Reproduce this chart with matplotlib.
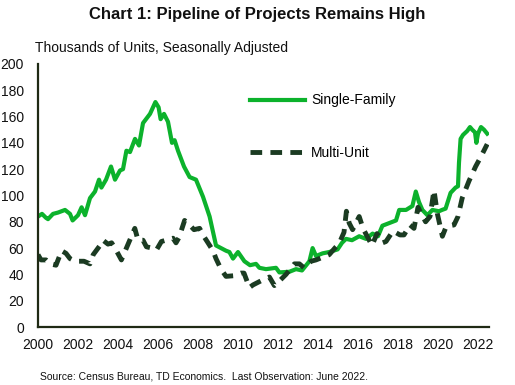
import matplotlib
matplotlib.use("Agg")
import matplotlib.pyplot as plt

plt.rcParams['font.family'] = ['Liberation Sans', 'DejaVu Sans']

# single-family units under construction
sf_year = [2000.0, 2000.2, 2000.4, 2000.5, 2000.75, 2001.0, 2001.35, 2001.6, 2001.73,
           2002.0, 2002.18, 2002.35, 2002.6, 2002.85, 2003.05, 2003.17, 2003.4, 2003.65,
           2003.85, 2004.1, 2004.25, 2004.42, 2004.6, 2004.85, 2005.05, 2005.25, 2005.6,
           2005.87, 2006.03, 2006.13, 2006.3, 2006.5, 2006.7, 2006.83, 2007.0, 2007.1,
           2007.3, 2007.58, 2007.9, 2008.25, 2008.58, 2008.9, 2009.15, 2009.4, 2009.57,
           2009.75, 2010.0, 2010.32, 2010.6, 2010.9, 2011.07, 2011.4, 2011.9, 2012.07,
           2012.57, 2012.9, 2013.2, 2013.57, 2013.73, 2013.9, 2014.23, 2014.56, 2014.98,
           2015.2, 2015.4, 2015.7, 2016.06, 2016.4, 2016.73, 2017.0, 2017.22, 2017.56,
           2017.9, 2018.06, 2018.4, 2018.72, 2018.89, 2019.05, 2019.22, 2019.47, 2019.72,
           2020.05, 2020.2, 2020.38, 2020.63, 2020.88, 2021.0, 2021.05, 2021.13, 2021.25,
           2021.46, 2021.6, 2021.71, 2021.85, 2021.92, 2022.0, 2022.15, 2022.3, 2022.46]
sf_val = [84, 86, 83, 82, 86, 87, 89, 86, 81,
          85, 91, 85, 98, 103, 112, 106, 112, 122,
          112, 119, 120, 134, 133, 143, 138, 155, 162,
          171, 167, 158, 162, 156, 140, 142, 134, 130,
          122, 114, 112, 99, 84, 62, 60, 58, 57,
          52, 57, 50, 47, 48, 45, 44, 45, 41.5,
          42, 44, 43, 50, 60, 54, 56, 57, 59,
          64, 67, 66, 69, 67, 71, 69, 77, 79,
          81, 89, 89, 92, 103, 95, 89, 85, 89,
          88, 89, 90, 102, 106, 107, 125, 143, 146,
          149, 152, 150, 148, 140, 147, 152, 150, 147]

# multi-unit
mu_year = [2000.0, 2000.15, 2000.4, 2000.6, 2000.9, 2001.18, 2001.4, 2001.6, 2001.85,
           2002.0, 2002.3, 2002.6, 2002.76, 2003.1, 2003.25, 2003.5, 2003.68, 2003.85,
           2004.17, 2004.42, 2004.84, 2005.0, 2005.25, 2005.42, 2005.7, 2005.92, 2006.17,
           2006.4, 2006.75, 2006.9, 2007.05, 2007.33, 2007.58, 2007.8, 2008.08, 2008.33,
           2008.5, 2008.75, 2008.9, 2009.15, 2009.4, 2009.8, 2010.15, 2010.3, 2010.57,
           2010.75, 2011.07, 2011.4, 2011.57, 2011.82, 2012.07, 2012.4, 2012.82, 2013.07,
           2013.3, 2013.65, 2013.9, 2014.23, 2014.56, 2014.9, 2015.06, 2015.3, 2015.42,
           2015.56, 2015.73, 2016.06, 2016.25, 2016.56, 2016.7, 2016.95, 2017.1, 2017.23,
           2017.4, 2017.75, 2018.1, 2018.3, 2018.6, 2018.8, 2019.0, 2019.2, 2019.38,
           2019.6, 2019.8, 2019.97, 2020.22, 2020.4, 2020.6, 2020.8, 2021.0, 2021.21,
           2021.55, 2021.88, 2022.13, 2022.46]
mu_val = [55, 51, 51, 48, 47, 58, 56, 52, 50,
          50, 50, 48, 55, 62, 66, 63, 64, 60,
          51, 60, 75, 66, 66, 61, 60, 58.5, 65,
          66, 67.5, 64, 68, 81, 77.6, 74, 75, 68,
          64, 58, 52, 44, 38.5, 39, 41, 41, 30,
          32, 34.5, 37, 38, 31.5, 35, 40, 48, 48,
          45, 50, 51, 53, 55, 61, 63.6, 72, 88,
          79, 74, 84, 75, 66, 62, 71, 68, 64,
          65, 73, 70, 70, 77.6, 75, 91, 85, 80,
          84, 104, 86, 69, 76, 77, 77.6, 84, 98,
          111, 122, 129, 139]

xticks = list(range(2000, 2023, 2))
yticks = list(range(0, 201, 20))

fig = plt.figure(figsize=(5.15, 3.85), dpi=100)
ax = fig.add_axes([0.0738, 0.1506, 0.8757, 0.6834])

ax.plot(sf_year, sf_val, color='#0cb22c', lw=3.0, label='Single-Family',
        solid_joinstyle='round')
ax.plot(mu_year, mu_val, color='#1b3b22', lw=3.5, linestyle=(0, (2.4, 1.7)),
        label='Multi-Unit')

ax.set_xlim(2000, 2022.55)
ax.set_ylim(0, 200)
ax.set_xticks(xticks)
ax.set_xticklabels([str(t) for t in xticks])
ax.set_yticks(yticks)
ax.tick_params(length=0, labelsize=10, colors='#111111')
ax.tick_params(axis='y', pad=10)
ax.tick_params(axis='x', pad=8)

for s in ['top', 'right']:
    ax.spines[s].set_visible(False)
for s in ['left', 'bottom']:
    ax.spines[s].set_color('#1f2a14')
    ax.spines[s].set_linewidth(1.6)

ax.legend(loc='upper left', bbox_to_anchor=(0.471, 0.888), frameon=False,
          fontsize=10, handlelength=3.9, handletextpad=0.45, labelspacing=2.75,
          borderpad=0, borderaxespad=0)

fig.text(0.5, 0.962, 'Chart 1: Pipeline of Projects Remains High', ha='center',
         va='center', fontsize=12, fontweight='bold', color='#111111')
fig.text(0.068, 0.875, 'Thousands of Units, Seasonally Adjusted', ha='left',
         va='center', fontsize=10, color='#111111')
fig.text(0.078, 0.022, 'Source: Census Bureau, TD Economics.  Last Observation: June 2022.',
         ha='left', va='center', fontsize=7.5, color='#111111')

fig.savefig('out.png', dpi=100)
